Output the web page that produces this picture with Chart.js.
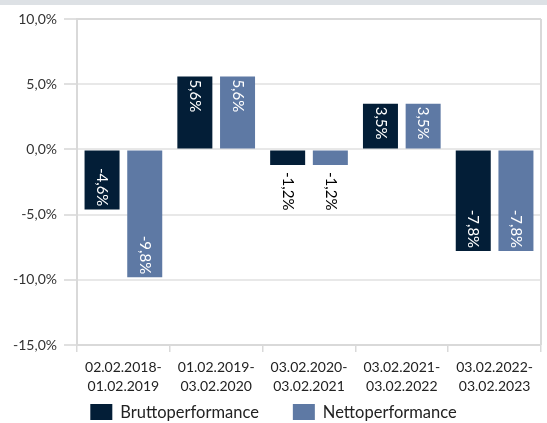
<!DOCTYPE html>
<html><head><meta charset="utf-8">
<script src="https://cdn.jsdelivr.net/npm/chart.js@4.4.0/dist/chart.umd.min.js"></script>
<style>
html,body{margin:0;padding:0;background:#fff;}
#wrap{position:relative;width:547px;height:423px;}
</style></head>
<body><div id="wrap"><canvas id="c" width="547" height="423"></canvas></div>
<script>
const categories = [["02.02.2018-","01.02.2019"],["01.02.2019-","03.02.2020"],["03.02.2020-","03.02.2021"],["03.02.2021-","03.02.2022"],["03.02.2022-","03.02.2023"]];
const seriesNames = ["Bruttoperformance","Nettoperformance"];
const brutto = [-4.6, 5.6, -1.2, 3.5, -7.8];
const netto = [-9.8, 5.6, -1.2, 3.5, -7.8];
const yTicks = [10, 5, 0, -5, -10, -15];
const colors = ['#031e37', '#5e79a4'];

const FONT = "Lato, 'Open Sans', sans-serif";
const fmt = v => v.toFixed(1).replace('.', ',') + '%';

const framePlugin = {
  id: 'frame',
  beforeDraw(chart) {
    const ctx = chart.ctx;
    ctx.save();
    ctx.fillStyle = '#dde1e5';
    ctx.fillRect(0, 0, chart.width, 5);
    ctx.restore();
  },
  afterDraw(chart) {
    const ctx = chart.ctx, a = chart.chartArea;
    ctx.save();
    ctx.strokeStyle = '#d9d9d9';
    ctx.lineWidth = 2;
    ctx.beginPath();
    ctx.moveTo(a.right, a.top);
    ctx.lineTo(a.right, a.bottom);
    ctx.moveTo(a.left, a.top);
    ctx.lineTo(a.right, a.top);
    ctx.stroke();
    // legend
    ctx.font = "16.5px " + FONT;
    ctx.textBaseline = 'middle';
    ctx.textAlign = 'left';
    const boxW = 22, boxH = 16, gap = 8, itemGap = 34;
    const widths = chart.data.datasets.map(d => ctx.measureText(d.label).width);
    let total = widths.reduce((s, w) => s + boxW + gap + w, 0) + itemGap * (widths.length - 1);
    let x = (chart.width - total) / 2;
    const cy = 412;
    chart.data.datasets.forEach((d, i) => {
      ctx.fillStyle = d.backgroundColor;
      ctx.fillRect(x, cy - boxH / 2, boxW, boxH);
      ctx.fillStyle = '#222';
      ctx.fillText(d.label, x + boxW + gap, cy + 1);
      x += boxW + gap + widths[i] + itemGap;
    });
    ctx.restore();
  }
};

const labelPlugin = {
  id: 'barLabels',
  afterDatasetsDraw(chart) {
    const ctx = chart.ctx;
    ctx.save();
    ctx.font = "15px " + FONT;
    chart.data.datasets.forEach((ds, di) => {
      const meta = chart.getDatasetMeta(di);
      meta.data.forEach((bar, i) => {
        const v = ds.data[i];
        const txt = v.toFixed(1).replace('.', ',') + '%';
        const w = ctx.measureText(txt).width;
        const len = Math.abs(bar.base - bar.y);
        const inside = len > w + 6;
        let startY, color;
        if (v >= 0) {
          if (inside) { startY = bar.y + 3; color = '#fff'; }
          else { startY = bar.y - 4 - w; color = '#000'; }
        } else {
          if (inside) { startY = bar.y - 3 - w; color = '#fff'; }
          else { startY = bar.y + 7; color = '#000'; }
        }
        ctx.save();
        ctx.translate(bar.x, startY);
        ctx.rotate(Math.PI / 2);
        ctx.fillStyle = color;
        ctx.textAlign = 'left';
        ctx.textBaseline = 'middle';
        ctx.fillText(txt, 0, 0);
        ctx.restore();
      });
    });
    ctx.restore();
  }
};

new Chart(document.getElementById('c'), {
  type: 'bar',
  data: {
    labels: categories,
    datasets: [
      { label: seriesNames[0], data: brutto, backgroundColor: colors[0], categoryPercentage: 0.92, barPercentage: 0.82 },
      { label: seriesNames[1], data: netto, backgroundColor: colors[1], categoryPercentage: 0.92, barPercentage: 0.82 }
    ]
  },
  options: {
    responsive: false,
    animation: false,
    devicePixelRatio: 1,
    layout: { padding: { top: 19, right: 6, left: 0, bottom: 0 } },
    plugins: {
      legend: { display: false },
      tooltip: { enabled: false }
    },
    scales: {
      y: {
        min: -15, max: 10,
        afterBuildTicks(scale) { scale.ticks = yTicks.map(v => ({ value: v })); },
        afterFit(scale) { scale.width = 77; },
        ticks: { callback: v => fmt(v), color: '#333', font: { family: FONT, size: 14 }, padding: 7 },
        grid: { color: '#e8e8e8', lineWidth: 2, tickLength: 13, tickColor: '#e0e0e0' },
        border: { display: true, color: '#d9d9d9', width: 2 }
      },
      x: {
        afterFit(scale) { scale.height = 78; },
        ticks: { color: '#222', font: { family: FONT, size: 14, lineHeight: 1.36 }, padding: 6, maxRotation: 0 },
        grid: { drawOnChartArea: false, drawTicks: true, tickLength: 7, color: '#d9d9d9', lineWidth: 1.5 },
        border: { display: true, color: '#d9d9d9', width: 2 }
      }
    }
  },
  plugins: [framePlugin, labelPlugin]
});
</script></body></html>
